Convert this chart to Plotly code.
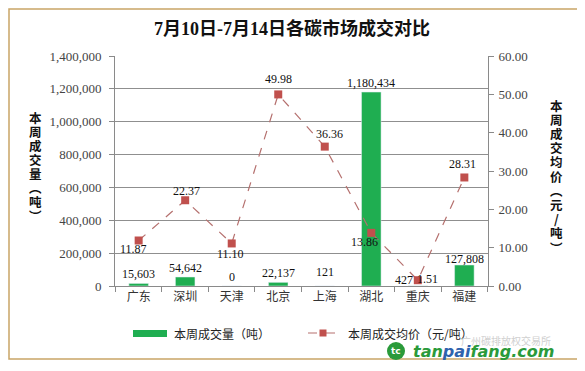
import plotly.graph_objects as go

categories = ["广东", "深圳", "天津", "北京", "上海", "湖北", "重庆", "福建"]
volume = [15603, 54642, 0, 22137, 121, 1180434, 427, 127808]
price = [11.87, 22.37, 11.10, 49.98, 36.36, 13.86, 1.51, 28.31]
left_ticks = [0, 200000, 400000, 600000, 800000, 1000000, 1200000, 1400000]
right_ticks = [0, 10, 20, 30, 40, 50, 60]

title_text = "7月10日-7月14日各碳市场成交对比"
vol_name = "本周成交量（吨）"
price_name = "本周成交均价（元/吨）"
left_title_chars = list("本周成交量") + ["︵", "吨", "︶"]
right_title_chars = list("本周成交均价") + ["︵", "元", "/", "吨", "︶"]

# the page body adds an 8px offset; size the figure so the plot lands where the reference has it
OFF = 8
W, H = 585 - OFF, 371 - OFF
L, R, T, B = 115 - OFF, 97, 56 - OFF, 85
PW, PH = W - L - R, H - T - B


def px_x(px):  # reference screen pixel -> paper
    return (px - 115) / PW


def px_y(py):
    return (286 - py) / PH


GREEN = "#1fae51"
RED = "#c0504d"
LINE = "#b5706e"
SERIF = "Liberation Serif, Noto Sans CJK SC"
SANS = "Noto Sans CJK SC"

fig = go.Figure()
fig.add_trace(go.Bar(x=categories, y=volume, marker_color=GREEN, width=0.42,
                     name=vol_name, showlegend=False))
fig.add_trace(go.Scatter(x=categories, y=price, yaxis="y2", mode="lines+markers",
                         line=dict(color=LINE, width=1.2, dash="dash"),
                         marker=dict(symbol="square", size=8, color=RED),
                         name=price_name, showlegend=False))

annotations = []
# bar value labels
bar_shift = [(0, 0), (0, 0), (0, 0), (0, 0), (0, 5), (0, 0), (-14, -3), (0, -3)]
for c, v, (dx, dy) in zip(categories, volume, bar_shift):
    annotations.append(dict(x=c, y=v, xref="x", yref="y", text=f"{v:,}",
                            showarrow=False, xanchor="center", yanchor="bottom",
                            xshift=dx, yshift=dy,
                            font=dict(family=SERIF, size=12, color="#111")))
# price labels
price_shift = [(-5, -8), (1, 9), (-1, -11), (0, 15), (5, 13), (-7, -9), (10, 1), (-2, 13)]
for c, p, (dx, dy) in zip(categories, price, price_shift):
    annotations.append(dict(x=c, y=p, xref="x", yref="y2", text=f"{p:.2f}",
                            showarrow=False, xanchor="center", yanchor="middle",
                            xshift=dx, yshift=dy,
                            font=dict(family=SERIF, size=12, color="#111")))


def pa(x, y, text, font, xanchor="center"):
    annotations.append(dict(x=px_x(x), y=px_y(y), xref="paper", yref="paper",
                            text=text, showarrow=False, xanchor=xanchor,
                            yanchor="middle", font=font))


# title
pa(292, 28, f"<b>{title_text}</b>", dict(family=SERIF, size=18, color="#111"))
# vertical (stacked) axis titles
title_font = dict(family=SANS, size=12.5, color="#111")
for i, ch in enumerate(left_title_chars):
    pa(35, 117 + 14 * i, f"<b>{ch}</b>", title_font)
for i, ch in enumerate(right_title_chars):
    pa(556, 105 + 14.2 * i, f"<b>{ch}</b>", title_font)
# legend texts
pa(172, 333, vol_name, dict(family=SANS, size=12, color="#222"), "left")
pa(346, 333, price_name, dict(family=SANS, size=12, color="#222"), "left")
# watermark
pa(506, 340, "广州碳排放权交易所", dict(family=SANS, size=10, color="#d0d0d0"))
pa(411, 351, "<b><i>tan<span style='color:#2f62ad'>pai</span>fang.com</i></b>",
   dict(family="DejaVu Sans", size=16, color="#2a9a3a"), "left")
pa(396, 351, "<b>tc</b>", dict(family="DejaVu Sans", size=9, color="white"))

shapes = [
    # outer frame
    dict(type="rect", xref="paper", yref="paper", x0=px_x(9), x1=px_x(578),
         y0=px_y(359), y1=px_y(9), line=dict(color="#c9a567", width=1.5), layer="below"),
    # legend: bar swatch
    dict(type="rect", xref="paper", yref="paper", x0=px_x(133), x1=px_x(167),
         y0=px_y(337), y1=px_y(330), fillcolor=GREEN, line=dict(width=0)),
    # legend: dashed line + marker
    dict(type="line", xref="paper", yref="paper", x0=px_x(308), x1=px_x(338),
         y0=px_y(333), y1=px_y(333), line=dict(color=LINE, width=1.2, dash="dash")),
    dict(type="rect", xref="paper", yref="paper", x0=px_x(319.5), x1=px_x(326.5),
         y0=px_y(336.5), y1=px_y(329.5), fillcolor=RED, line=dict(width=0)),
    # watermark logo
    dict(type="circle", xref="paper", yref="paper", x0=px_x(387), x1=px_x(405),
         y0=px_y(360), y1=px_y(342), fillcolor="#2a9a3a", line=dict(width=0)),
]

fig.update_layout(
    width=W, height=H,
    margin=dict(l=L, r=R, t=T, b=B),
    paper_bgcolor="white", plot_bgcolor="white",
    showlegend=False,
    xaxis=dict(type="category", showline=True, linecolor="#8a8a8a", linewidth=1,
               ticks="outside", tickson="boundaries", ticklen=5, tickcolor="#8a8a8a",
               showgrid=False, tickfont=dict(family=SANS, size=12, color="#333")),
    yaxis=dict(range=[0, 1400000], tickvals=left_ticks, tickformat=",d",
               showline=True, linecolor="#8a8a8a", ticks="outside", ticklen=5,
               tickcolor="#8a8a8a", showgrid=True, gridcolor="#8f8f8f", gridwidth=1,
               zeroline=False, ticklabelstandoff=5,
               tickfont=dict(family=SERIF, size=13, color="#444")),
    yaxis2=dict(range=[0, 60], tickvals=right_ticks, tickformat=".2f", overlaying="y",
                side="right", showline=True, linecolor="#8a8a8a", ticks="outside",
                ticklen=5, tickcolor="#8a8a8a", showgrid=False, zeroline=False,
                ticklabelstandoff=2,
                tickfont=dict(family=SERIF, size=13, color="#444")),
    annotations=annotations,
    shapes=shapes,
)

fig.write_html("out.html")
